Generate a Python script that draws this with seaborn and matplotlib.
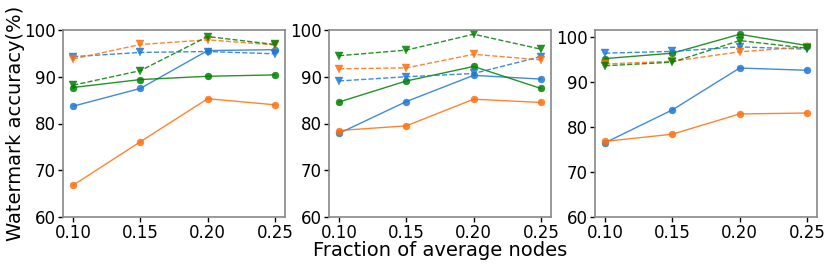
import matplotlib
matplotlib.use("Agg")
import matplotlib.pyplot as plt
import seaborn as sns
import pandas as pd

sns.set_style("white")
plt.rcParams['font.family'] = ['DejaVu Sans']

fractions = [0.10, 0.15, 0.20, 0.25]
xtick_labels = ["0.10", "0.15", "0.20", "0.25"]

# Panel 1
p1_blue_solid = [83.7, 87.5, 95.6, 95.8]
p1_orange_solid = [66.8, 76.1, 85.3, 84.0]
p1_green_solid = [87.7, 89.4, 90.1, 90.4]
p1_blue_dashed = [94.3, 95.2, 95.4, 94.9]
p1_orange_dashed = [93.8, 96.9, 97.9, 96.8]
p1_green_dashed = [88.2, 91.3, 98.6, 96.9]

# Panel 2
p2_blue_solid = [77.9, 84.7, 90.3, 89.5]
p2_orange_solid = [78.5, 79.5, 85.2, 84.5]
p2_green_solid = [84.6, 89.1, 92.2, 87.5]
p2_blue_dashed = [89.1, 90.0, 90.7, 94.3]
p2_orange_dashed = [91.7, 91.9, 94.8, 93.6]
p2_green_dashed = [94.5, 95.7, 99.1, 95.9]

# Panel 3
p3_blue_solid = [76.5, 83.8, 93.1, 92.6]
p3_orange_solid = [76.8, 78.4, 82.9, 83.1]
p3_green_solid = [95.2, 96.4, 100.6, 98.1]
p3_blue_dashed = [96.4, 96.8, 97.8, 97.3]
p3_orange_dashed = [94.0, 94.6, 96.7, 97.8]
p3_green_dashed = [93.6, 94.4, 99.2, 97.5]

blue, orange, green = "#1f77d4", "#ff6f0e", "#008000"

panels = [
    [(p1_blue_solid, blue, "-", "o"), (p1_orange_solid, orange, "-", "o"), (p1_green_solid, green, "-", "o"),
     (p1_blue_dashed, blue, "--", "v"), (p1_orange_dashed, orange, "--", "v"), (p1_green_dashed, green, "--", "v")],
    [(p2_blue_solid, blue, "-", "o"), (p2_orange_solid, orange, "-", "o"), (p2_green_solid, green, "-", "o"),
     (p2_blue_dashed, blue, "--", "v"), (p2_orange_dashed, orange, "--", "v"), (p2_green_dashed, green, "--", "v")],
    [(p3_blue_solid, blue, "-", "o"), (p3_orange_solid, orange, "-", "o"), (p3_green_solid, green, "-", "o"),
     (p3_blue_dashed, blue, "--", "v"), (p3_orange_dashed, orange, "--", "v"), (p3_green_dashed, green, "--", "v")],
]
ylims = [(60, 100), (60, 100), (60, 101.55)]

fig = plt.figure(figsize=(8.3, 2.66), dpi=100)
lefts = [63, 329, 595]
W, H = 830, 266
axes = []
for i, series in enumerate(panels):
    ax = fig.add_axes([lefts[i] / W, (H - 217) / H, 222 / W, (217 - 30) / H])
    for vals, c, ls, mk in series:
        df = pd.DataFrame({"x": fractions, "y": vals})
        sns.lineplot(data=df, x="x", y="y", ax=ax, color=c, linestyle=ls, marker=mk,
                     markersize=5 if mk == "o" else 5.5, markeredgewidth=0.3, markeredgecolor=c,
                     linewidth=1.0, alpha=0.85)
    ax.set_ylim(*ylims[i])
    ax.set_yticks([60, 70, 80, 90, 100])
    ax.set_xticks(fractions)
    ax.set_xticklabels(xtick_labels)
    ax.set_xlim(0.0925, 0.2575)
    ax.set_xlabel("")
    ax.set_ylabel("")
    ax.tick_params(axis="both", labelsize=12, length=3.5, width=1, color="black",
                   labelcolor="black", left=True, bottom=True, pad=1.5)
    for s in ax.spines.values():
        s.set_color("#888888")
        s.set_linewidth(1.2)
    axes.append(ax)

fig.text(16 / W, 1 - 123 / H, "Watermark accuracy(%)", fontsize=14, rotation=90,
         ha="center", va="center", color="black")
fig.text(440 / W, 1 - 251 / H, "Fraction of average nodes", fontsize=14,
         ha="center", va="center", color="black")

fig.savefig("out.png", dpi=100)
